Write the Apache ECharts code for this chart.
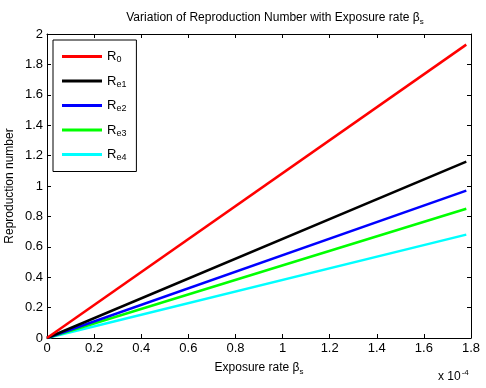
<!DOCTYPE html>
<html>
<head>
<meta charset="utf-8">
<script src="https://cdn.jsdelivr.net/npm/echarts@6/dist/echarts.min.js"></script>
<style>
  html, body { margin: 0; padding: 0; background: #fff; }
  #chart { width: 486px; height: 388px; }
</style>
</head>
<body>
<div id="chart"></div>
<script>
// exposure rate, in units of 1e-4
const beta = [0, 1.78];
const seriesNames = ["R0", "Re1", "Re2", "Re3", "Re4"];
const r0 = [0, 1.93];
const re1 = [0, 1.16];
const re2 = [0, 0.97];
const re3 = [0, 0.85];
const re4 = [0, 0.68];
const colors = ["#ff0000", "#000000", "#0000ff", "#00ff00", "#00ffff"];

const values = [r0, re1, re2, re3, re4];
const font = "Liberation Sans";

const chart = echarts.init(document.getElementById("chart"));

// mirror axes on top/right, ticks only (matlab box)
const tickOnly = {
  axisLine: { show: true, onZero: false, lineStyle: { color: "#000", width: 1 } },
  axisTick: { show: true, inside: true, length: 4, lineStyle: { color: "#000" } },
  axisLabel: { show: false },
  splitLine: { show: false }
};

chart.setOption({
  animation: false,
  color: colors,
  title: {
    text: "{a|Variation of Reproduction Number with Exposure rate β}{b|s}",
    left: 270,
    top: 5,
    textAlign: "center",
    textStyle: {
      fontWeight: "normal",
      rich: {
        a: { fontFamily: font, fontSize: 12, fontWeight: "normal", color: "#000" },
        b: { fontFamily: font, fontSize: 8, fontWeight: "normal", color: "#000", padding: [8, 0, 0, 0] }
      }
    }
  },
  legend: {
    orient: "vertical",
    left: 53,
    top: 40,
    data: seriesNames,
    icon: "rect",
    itemWidth: 40,
    itemHeight: 3,
    itemGap: 10,
    padding: [10, 10, 9, 9],
    borderColor: "#000",
    borderWidth: 1,
    backgroundColor: "#fff",
    formatter: name => "{m|R}{s|" + name.slice(1) + "}",
    textStyle: {
      rich: {
        m: { fontFamily: font, fontSize: 13, color: "#000", lineHeight: 15 },
        s: { fontFamily: font, fontSize: 9, color: "#000", padding: [7, 0, 0, 0] }
      }
    }
  },
  grid: { left: 47, right: 15, top: 34, bottom: 50, outerBoundsMode: "none" },
  xAxis: [
    {
      type: "value",
      min: 0,
      max: 1.8,
      interval: 0.2,
      name: "{a|Exposure rate β}{b|s}",
      nameLocation: "middle",
      nameGap: 22,
      nameTextStyle: {
        rich: {
          a: { fontFamily: font, fontSize: 12, color: "#000" },
          b: { fontFamily: font, fontSize: 8, color: "#000", padding: [8, 0, 0, 0] }
        }
      },
      axisLine: { show: true, onZero: false, lineStyle: { color: "#000", width: 1 } },
      axisTick: { inside: true, length: 4, lineStyle: { color: "#000" } },
      axisLabel: {
        fontFamily: font, fontSize: 13, color: "#000", margin: 4,
        formatter: v => String(Math.round(v * 10) / 10)
      },
      splitLine: { show: false }
    },
    Object.assign({ type: "value", position: "top", min: 0, max: 1.8, interval: 0.2 }, tickOnly)
  ],
  yAxis: [
    {
      type: "value",
      min: 0,
      max: 2,
      interval: 0.2,
      name: "Reproduction number",
      nameLocation: "middle",
      nameGap: 31,
      nameMoveOverlap: false,
      nameTextStyle: { fontFamily: font, fontSize: 12, color: "#000" },
      axisLine: { show: true, onZero: false, lineStyle: { color: "#000", width: 1 } },
      axisTick: { inside: true, length: 4, lineStyle: { color: "#000" } },
      axisLabel: {
        fontFamily: font, fontSize: 13, color: "#000", margin: 4,
        formatter: v => String(Math.round(v * 10) / 10)
      },
      splitLine: { show: false }
    },
    Object.assign({ type: "value", position: "right", min: 0, max: 2, interval: 0.2 }, tickOnly)
  ],
  graphic: [
    {
      type: "text",
      left: 438,
      top: 369,
      style: {
        text: "{a|x 10}{b|-4}",
        rich: {
          a: { fontFamily: font, fontSize: 12, fill: "#000" },
          b: { fontFamily: font, fontSize: 8, fill: "#000", padding: [0, 0, 8, 1] }
        }
      }
    }
  ],
  series: seriesNames.map((n, i) => ({
    name: n,
    type: "line",
    data: beta.map((b, j) => [b, values[i][j]]),
    showSymbol: false,
    lineStyle: { width: 2.5, color: colors[i] },
    z: 5 - i
  }))
});
</script>
</body>
</html>
